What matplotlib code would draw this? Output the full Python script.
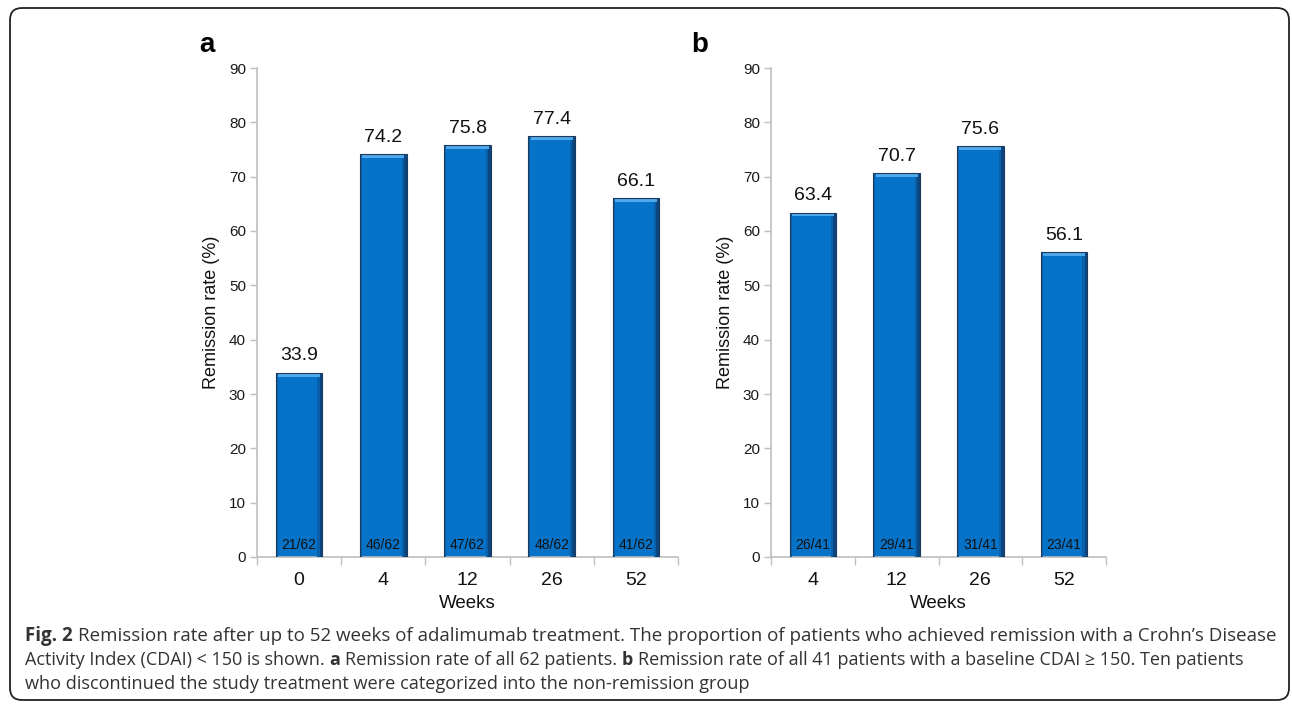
import numpy as np
import matplotlib
matplotlib.use('Agg')
import matplotlib.pyplot as plt
from matplotlib.patches import FancyBboxPatch
from matplotlib.transforms import IdentityTransform

# ---------------- data ----------------
weeks_a = ['0', '4', '12', '26', '52']
rate_a = [33.9, 74.2, 75.8, 77.4, 66.1]
frac_a = ['21/62', '46/62', '47/62', '48/62', '41/62']

weeks_b = ['4', '12', '26', '52']
rate_b = [63.4, 70.7, 75.6, 56.1]
frac_b = ['26/41', '29/41', '31/41', '23/41']

yticks = [0, 10, 20, 30, 40, 50, 60, 70, 80, 90]

caption_lines = [
    [("Fig. 2", True), ("Remission rate after up to 52 weeks of adalimumab treatment. The proportion of patients who achieved remission with a Crohn\u2019s Disease", False)],
    [("Activity Index (CDAI) < 150 is shown.", False), ("a", True), ("Remission rate of all 62 patients.", False), ("b", True),
     ("Remission rate of all 41 patients with a baseline CDAI \u2265 150. Ten patients", False)],
    [("who discontinued the study treatment were categorized into the non-remission group", False)],
]

# ---------------- figure ----------------
W, H = 1292, 704
fig = plt.figure(figsize=(W / 100, H / 100), dpi=100)
AF = 'Liberation Sans'
GRAY = '#bfbfbf'


def panel(px_left, px_right, cats, vals, fracs, ylab_px):
    top, bottom = 68, 557
    ax = fig.add_axes([px_left / W, (H - bottom) / H, (px_right - px_left) / W, (bottom - top) / H])
    n = len(cats)
    x = np.arange(n)
    v = np.array(vals)
    bw = 0.555
    ax.bar(x, v, width=bw, color='#0773c8', linewidth=0, zorder=2)
    # left subtle shade
    ax.bar(x - bw / 2 + 0.012, v, width=0.024, color='#0a62ad', linewidth=0, zorder=3)
    # right dark shade (two-step gradient)
    ax.bar(x + bw / 2 - 0.045, v, width=0.03, color='#0960a8', linewidth=0, zorder=3)
    ax.bar(x + bw / 2 - 0.017, v, width=0.034, color='#0b4680', linewidth=0, zorder=3)
    # top bevel highlight
    ax.bar(x, np.full(n, 0.7), bottom=v - 0.7, width=bw * 0.9, color='#4ea8ea', linewidth=0, zorder=4)
    # outline
    ax.bar(x, v, width=bw, facecolor='none', edgecolor='#1d3a5a', linewidth=0.8, zorder=5)

    for xi, val, fr in zip(x, v, fracs):
        ax.annotate(f'{val:.1f}', (xi, val), xytext=(0, 6), textcoords='offset points',
                    ha='center', va='bottom', fontsize=14, family=AF, color='#111111')
        ax.annotate(fr, (xi, 0), xytext=(0, 8.6), textcoords='offset points',
                    ha='center', va='center', fontsize=10, family=AF, color='#111111', zorder=6)

    ax.set_xlim(-0.5, n - 0.5)
    ax.set_ylim(0, 90)
    ax.set_yticks(yticks)
    ax.set_yticklabels([str(t) for t in yticks], family=AF, fontsize=11, color='#1a1a1a')
    ax.tick_params(axis='y', length=5, color=GRAY, width=1, pad=3)
    ax.set_xticks(x)
    ax.set_xticklabels(cats, family=AF, fontsize=14, color='#111111')
    ax.tick_params(axis='x', which='major', length=0, pad=11)
    ax.set_xticks(np.arange(-0.5, n, 1.0), minor=True)
    ax.tick_params(axis='x', which='minor', length=6, color=GRAY, width=1)
    for s in ['top', 'right']:
        ax.spines[s].set_visible(False)
    for s in ['left', 'bottom']:
        ax.spines[s].set_color(GRAY)
        ax.spines[s].set_linewidth(1.2)
    ax.set_ylabel('Remission rate (%)', family=AF, fontsize=13, color='#111111', va='center')
    ax.yaxis.set_label_coords((ylab_px - px_left) / (px_right - px_left), 0.5)
    ax.set_xlabel('Weeks', family=AF, fontsize=13.5, color='#111111', va='center')
    ax.xaxis.set_label_coords(0.5, (bottom - 603) / (bottom - top))
    return ax


panel(257, 678, weeks_a, rate_a, frac_a, 212)
panel(771, 1106, weeks_b, rate_b, frac_b, 725)

fig.text(207 / W, 1 - 45 / H, 'a', family=AF, fontsize=20, weight='bold', ha='center', va='center')
fig.text(700 / W, 1 - 45 / H, 'b', family=AF, fontsize=20, weight='bold', ha='center', va='center')

# border
border = FancyBboxPatch((10, 4), 1279, 692, boxstyle='round,pad=0,rounding_size=12',
                        transform=IdentityTransform(), fill=False, edgecolor='#222222', linewidth=1.3)
fig.add_artist(border)

# ---------------- caption ----------------
CF = 'Open Sans'
renderer = fig.canvas.get_renderer()


def text_width(s, size, bold):
    t = fig.text(0, 0, s, family=CF, fontsize=size, weight='bold' if bold else 'normal')
    w = t.get_window_extent(renderer).width
    t.remove()
    return w


def advance(s, size, bold):
    # approximate advance width of s followed by a space
    return text_width(s + ' l', size, bold) - text_width('l', size, bold)


def total_width(pieces, size):
    w = sum(advance(p, size, b) for p, b in pieces[:-1])
    return w + text_width(pieces[-1][0], size, pieces[-1][1])


x0 = 25
targets = [1268, 1244, 748]
ys = [636, 660, 684]
base = 12
for pieces, yc, tgt in zip(caption_lines, ys, targets):
    size = base * (tgt - x0) / total_width(pieces, base)
    x = x0
    for p, b in pieces:
        fig.text(x / W, 1 - yc / H, p, family=CF, fontsize=size,
                 weight='bold' if b else 'normal', color='#333333', ha='left', va='center')
        x += advance(p, size, b)

fig.savefig('out.png', dpi=100)
